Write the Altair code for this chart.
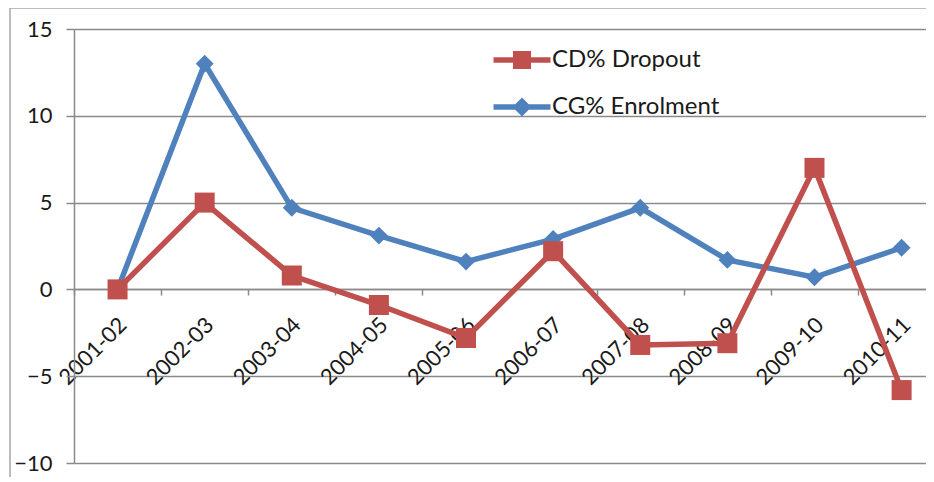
import json
import altair as alt
import pandas as pd

periods = ["2001-02", "2002-03", "2003-04", "2004-05", "2005-06",
           "2006-07", "2007-08", "2008-09", "2009-10", "2010-11"]
cg_enrolment = [0.0, 13.0, 4.7, 3.1, 1.6, 2.9, 4.7, 1.7, 0.7, 2.4]
cd_dropout = [0.0, 5.0, 0.8, -0.9, -2.8, 2.2, -3.2, -3.1, 7.0, -5.8]
series_names = ["CD% Dropout", "CG% Enrolment"]
series_colors = ["#C0504D", "#4F81BD"]
series_shapes = ["square", "diamond"]
y_ticks = [-10, -5, 0, 5, 10, 15]

# legend symbols: line segment with marker
legend_paths = [
    "M-2.85,-0.28H2.85V0.28H-2.85Z M-0.9,-0.9H0.9V0.9H-0.9Z",
    "M-2.85,-0.28H2.85V0.28H-2.85Z M0,-0.95L0.95,0L0,0.95L-0.95,0Z",
]

rows = []
for name, vals in [("CG% Enrolment", cg_enrolment), ("CD% Dropout", cd_dropout)]:
    for i, p in enumerate(periods):
        rows.append({"idx": i, "period": p, "series": name, "value": vals[i]})
df = pd.DataFrame(rows)

FONT = "Lato"
GRID = "#8a8a8a"
n = len(periods)
x_vals = sorted([i - 0.5 for i in range(n)] + list(range(n)))
label_expr = f"datum.value % 1 == 0 ? {json.dumps(periods)}[datum.value] : ''"

x_enc = alt.X(
    "idx:Q",
    scale=alt.Scale(domain=[-0.5, 9.28], nice=False, zero=False),
    axis=alt.Axis(
        values=x_vals, labelExpr=label_expr, title=None, grid=False,
        labelAngle=-45, labelAlign="right", labelBaseline="middle",
        labelPadding=26, labelOffset=5, labelOverlap=False, labelFlush=False,
        labelBound=False, labelFont=FONT, labelFontSize=22, labelColor="#1a1a1a",
        tickSize=6, tickColor=GRID, tickWidth=1.5,
        tickOpacity={"condition": {"test": "datum.value % 1 == 0", "value": 0}, "value": 1},
        domainColor=GRID, domainWidth=1.5, offset=-174,
    ),
)
y_enc = alt.Y(
    "value:Q",
    scale=alt.Scale(domain=[-10, 15], nice=False),
    axis=alt.Axis(
        values=y_ticks, title=None, grid=True, gridColor=GRID, gridWidth=1.5,
        domainColor=GRID, domainWidth=1.5, tickColor=GRID, tickWidth=1.5,
        tickSize=8, labelPadding=14, labelFont=FONT, labelFontSize=22,
        labelColor="#1a1a1a",
    ),
)

base = alt.Chart(df)
layers = []
for name in ["CG% Enrolment", "CD% Dropout"]:
    k = series_names.index(name)
    sub = base.transform_filter(alt.datum.series == name)
    layers.append(sub.mark_line(strokeWidth=5.5, color=series_colors[k]).encode(x=x_enc, y=y_enc))
    layers.append(sub.mark_point(filled=True, opacity=1, shape=series_shapes[k],
                                 size=400 if series_shapes[k] == "square" else 320,
                                 color=series_colors[k]).encode(x=x_enc, y=y_enc))

leg_kwargs = dict(
    orient="none", legendX=436, legendY=19, title=None, labelFont=FONT,
    labelFontSize=24, labelColor="#1a1a1a", labelLimit=400, symbolSize=400,
    symbolStrokeWidth=0, symbolOpacity=1, labelOffset=18, rowPadding=23, padding=0,
)
legend_layer = base.transform_filter("false").mark_point(filled=True).encode(
    x=x_enc, y=y_enc,
    color=alt.Color("series:N", scale=alt.Scale(domain=series_names, range=series_colors),
                    legend=alt.Legend(**leg_kwargs)),
    shape=alt.Shape("series:N", scale=alt.Scale(domain=series_names, range=legend_paths),
                    legend=alt.Legend(**leg_kwargs)),
)

frame = pd.DataFrame({"k": [0]})
border_left = alt.Chart(frame).mark_rule(color="#a6a6a6", strokeWidth=1.5).encode(
    x=alt.value(-64), y=alt.value(-21), y2=alt.value(470))
border_top = alt.Chart(frame).mark_rule(color="#a6a6a6", strokeWidth=1.5).encode(
    x=alt.value(-64), x2=alt.value(900), y=alt.value(-21))

chart = alt.layer(border_left, border_top, *layers, legend_layer).properties(
    width=852, height=434,
    autosize=alt.AutoSizeParams(type="none"),
    padding={"left": 66, "top": 21, "right": 0, "bottom": 14},
    background="white",
).configure_view(stroke=None)

chart.save("out.html", embed_options={"renderer": "svg", "actions": False})
